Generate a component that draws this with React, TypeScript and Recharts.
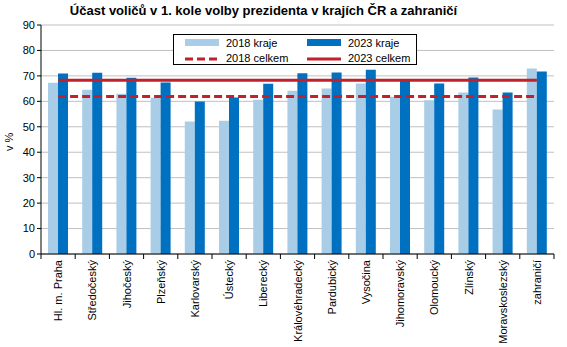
import React from 'react';
import { ComposedChart, Bar, Line, XAxis, YAxis, CartesianGrid } from 'recharts';

const regions = [
  'Hl. m. Praha', 'Středočeský', 'Jihočeský', 'Plzeňský', 'Karlovarský', 'Ústecký', 'Liberecký',
  'Královéhradecký', 'Pardubický', 'Vysočina', 'Jihomoravský', 'Olomoucký', 'Zlínský',
  'Moravskoslezský', 'zahraničí',
];
const kraje2018 = [67.3, 64.6, 63.0, 61.4, 52.1, 52.4, 60.6, 64.2, 65.0, 67.0, 61.8, 60.4, 63.5, 56.8, 72.9];
const kraje2023 = [70.9, 71.2, 69.3, 67.4, 59.9, 61.5, 66.9, 71.0, 71.3, 72.4, 68.0, 67.0, 69.4, 63.5, 71.7];
const celkem2018 = 61.92;
const celkem2023 = 68.24;
const yTicks = [0, 10, 20, 30, 40, 50, 60, 70, 80, 90];

const data = regions.map((name, i) => ({
  name,
  k2018: kraje2018[i],
  k2023: kraje2023[i],
  c2018: celkem2018,
  c2023: celkem2023,
}));

const LIGHT = '#a9cde6';
const DARK = '#0070c0';
const RED = '#c0212b';
const FONT = 'Liberation Sans, Arial, sans-serif';
const BAND = 513 / 15;

const XTick = (props: any) => {
  const { x, y, payload, index } = props;
  const top = y - 8;
  return (
    <g>
      <line x1={x - BAND / 2} y1={top} x2={x - BAND / 2} y2={top + 5} stroke="#000" />
      {index === regions.length - 1 && (
        <line x1={x + BAND / 2} y1={top} x2={x + BAND / 2} y2={top + 5} stroke="#000" />
      )}
      <text
        x={x + 4}
        y={top + 6}
        transform={`rotate(-90, ${x + 4}, ${top + 6})`}
        textAnchor="end"
        fontSize={11}
        fontFamily={FONT}
        fill="#000"
      >
        {payload.value}
      </text>
    </g>
  );
};

const LegendBox = () => {
  const item = (label: string, swatch: React.ReactNode) => (
    <div style={{ display: 'flex', alignItems: 'center', height: 15 }}>
      <svg width={36} height={10} style={{ marginRight: 6 }}>{swatch}</svg>
      <span>{label}</span>
    </div>
  );
  return (
    <div
      style={{
        position: 'absolute',
        left: 173,
        top: 34,
        border: '1px solid #000',
        background: '#fff',
        width: 244,
        height: 31,
        padding: '1px 0 0 10px',
        boxSizing: 'border-box',
        display: 'grid',
        gridTemplateColumns: '122px 120px',
        fontFamily: FONT,
        fontSize: 11,
        color: '#000',
        lineHeight: '15px',
      }}
    >
      {item('2018 kraje', <rect x={1} y={0} width={34} height={7} fill={LIGHT} />)}
      {item('2023 kraje', <rect x={1} y={0} width={34} height={7} fill={DARK} />)}
      {item('2018 celkem', <line x1={1} y1={5} x2={35} y2={5} stroke={RED} strokeWidth={3} strokeDasharray="8 4" />)}
      {item('2023 celkem', <line x1={1} y1={5} x2={35} y2={5} stroke={RED} strokeWidth={3} />)}
    </div>
  );
};

export default function App() {
  return (
    <div style={{ position: 'fixed', left: 0, top: 0, width: 567, height: 347, background: '#fff' }}>
      <div
        style={{
          position: 'absolute',
          left: 0,
          top: 3,
          width: 527,
          textAlign: 'center',
          fontFamily: FONT,
          fontWeight: 'bold',
          fontSize: 13,
          color: '#000',
        }}
      >
        Účast voličů v 1. kole volby prezidenta v krajích ČR a zahraničí
      </div>
      <div
        style={{
          position: 'absolute',
          left: 3,
          top: 151,
          fontFamily: FONT,
          fontSize: 11,
          lineHeight: '13px',
          whiteSpace: 'nowrap',
          transform: 'rotate(-90deg)',
          transformOrigin: 'left top',
        }}
      >
        v %
      </div>
      <ComposedChart
        width={567}
        height={347}
        data={data}
        margin={{ top: 25, right: 13, bottom: 5, left: 11 }}
        barCategoryGap="20%"
        barGap={0}
      >
        <CartesianGrid vertical={false} stroke="#c0c0c0" strokeWidth={1} />
        <XAxis
          dataKey="name"
          interval={0}
          height={88}
          tickLine={false}
          axisLine={{ stroke: '#000' }}
          tick={<XTick />}
        />
        <XAxis xAxisId="top" dataKey="name" orientation="top" height={0} tick={false} tickLine={false} axisLine={{ stroke: '#000' }} />
        <YAxis
          domain={[0, 90]}
          ticks={yTicks}
          interval={0}
          width={30}
          tickSize={4}
          tickLine={{ stroke: '#000' }}
          axisLine={{ stroke: '#000' }}
          tick={{ fontSize: 11, fontFamily: FONT, fill: '#000' }}
        />
        <YAxis yAxisId="right" orientation="right" width={0} domain={[0, 90]} tick={false} tickLine={false} axisLine={{ stroke: '#000' }} />
        <Bar dataKey="k2018" name="2018 kraje" fill={LIGHT} barSize={10} isAnimationActive={false} />
        <Bar dataKey="k2023" name="2023 kraje" fill={DARK} barSize={10} isAnimationActive={false} />
        <Line dataKey="c2018" name="2018 celkem" stroke={RED} strokeWidth={3} strokeDasharray="8 4" dot={false} activeDot={false} isAnimationActive={false} />
        <Line dataKey="c2023" name="2023 celkem" stroke={RED} strokeWidth={3} dot={false} activeDot={false} isAnimationActive={false} />
      </ComposedChart>
      <LegendBox />
    </div>
  );
}
